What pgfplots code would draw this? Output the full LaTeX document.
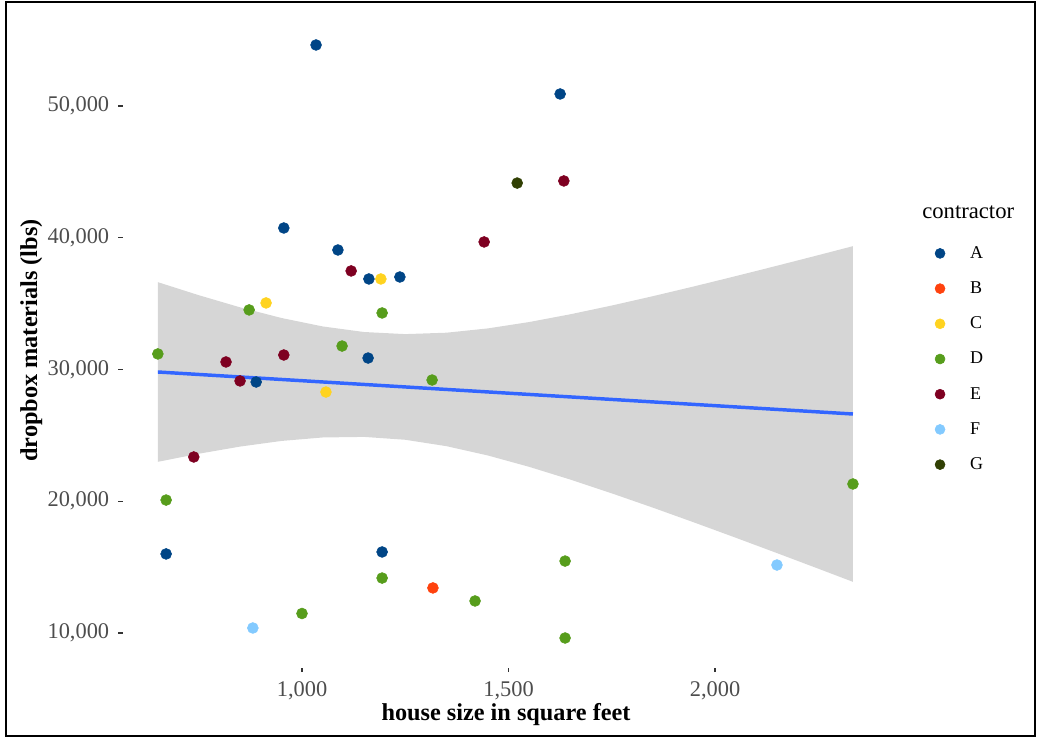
\documentclass[border=0pt]{standalone}
\usepackage{pgfplots}
\pgfplotsset{compat=1.18}
\usepackage{fontspec}
\setmainfont{Liberation Serif}
\definecolor{cA}{HTML}{004586}
\definecolor{cB}{HTML}{FF420E}
\definecolor{cC}{HTML}{FFD320}
\definecolor{cD}{HTML}{579D1C}
\definecolor{cE}{HTML}{7E0021}
\definecolor{cF}{HTML}{83CAFF}
\definecolor{cG}{HTML}{314004}
\definecolor{fitline}{HTML}{3366FF}
\definecolor{tickgray}{HTML}{4D4D4D}
\definecolor{tickmark}{HTML}{333333}
\pgfplotsset{pt/.style={only marks, mark=*, mark size=4.1pt, color=#1,
  legend image code/.code={\path[draw=none, fill=none] (-6pt,-13.2pt) rectangle (22.5pt,13.2pt);
    \draw[##1, mark size=3.75pt] plot coordinates {(0pt,0pt)};}}}
\begin{document}
\begin{tikzpicture}
\useasboundingbox (0,0) rectangle (777.75pt,553.5pt);
\draw[line width=1.5pt] (4.5pt,1.5pt) rectangle (776.25pt,552pt);
\begin{axis}[
  at={(92.25pt,52.725pt)}, anchor=south west,
  width=573.45pt, height=489.3pt, scale only axis,
  xmin=566.6, xmax=2417.9, ymin=7366, ymax=56883,
  axis line style={draw=none},
  tick align=outside, major tick length=3.4pt,
  tick pos=left,
  xtick={1000,1500,2000}, ytick={10000,20000,30000,40000,50000},
  tick style={color=tickmark, line width=0.8pt},
  scaled ticks=false,
  /pgf/number format/1000 sep={,},
  /pgf/number format/assume math mode=true,
  ticklabel style={font=\fontsize{16.8}{20}\selectfont, text=tickgray, inner sep=0pt},
  yticklabel style={anchor=east, xshift=-6.75pt},
  xticklabel style={anchor=north, yshift=-6.5pt},
  legend style={at={(1.0581,0.662)}, anchor=north west, draw=none, fill=none,
    inner sep=0pt, outer sep=0pt, row sep=0pt,
    font=\fontsize{13.5}{16}\selectfont, nodes={inner sep=0pt}},
  legend cell align=left,
]
\addplot[pt=cA] coordinates {(1034,54630) (1625,50910) (956,40740) (1087,39070) (1162,36870) (1237,37020) (1160,30870) (889,29050) (671,16000) (1194,16150)};
\addlegendentry{A}
\addplot[pt=cB] coordinates {(1317,13420)};
\addlegendentry{B}
\addplot[pt=cC] coordinates {(913,35050) (1191,36870) (1058,28290)};
\addlegendentry{C}
\addplot[pt=cD] coordinates {(651,31180) (872,34520) (1194,34290) (1097,31780) (1315,29200) (671,20090) (1194,14170) (1000,11480) (1419,12430) (1637,15460) (1637,9620) (2334,21310)};
\addlegendentry{D}
\addplot[pt=cE] coordinates {(1119,37480) (1441,39680) (1634,44310) (816,30570) (850,29130) (956,31100) (738,23360)};
\addlegendentry{E}
\addplot[pt=cF] coordinates {(881,10380) (2150,15160)};
\addlegendentry{F}
\addplot[pt=cG] coordinates {(1521,44150)};
\addlegendentry{G}
\addplot[draw=none, fill=black!40, fill opacity=0.4, forget plot] coordinates {
(651,36628) (750,35639) (850,34718) (950,33911) (1050,33268) (1150,32845) (1250,32685) (1350,32792) (1450,33118) (1550,33601) (1650,34192) (1750,34855) (1850,35567) (1950,36313) (2050,37085) (2150,37874) (2250,38677) (2334,39360)
(2334,13882) (2250,14883) (2150,16064) (2050,17233) (1950,18383) (1850,19509) (1750,20599) (1650,21642) (1550,22611) (1450,23474) (1350,24178) (1250,24665) (1150,24883) (1050,24840) (950,24575) (850,24148) (750,23605) (651,22992)};
\addplot[color=fitline, line width=2.6pt, forget plot] coordinates {(651,29810) (2334,26621)};
\end{axis}
\node[anchor=base west, inner sep=0pt, font=\fontsize{17}{20}\selectfont] at (691.5pt,389.6pt) {contractor};
\node[anchor=base, inner sep=0pt, font=\bfseries\fontsize{18.2}{22}\selectfont] at (379.5pt,13.5pt) {house size in square feet};
\node[anchor=base, rotate=90, inner sep=0pt, font=\bfseries\fontsize{18.2}{22}\selectfont] at (27.75pt,298.1pt) {dropbox materials (lbs)};
\end{tikzpicture}
\end{document}
